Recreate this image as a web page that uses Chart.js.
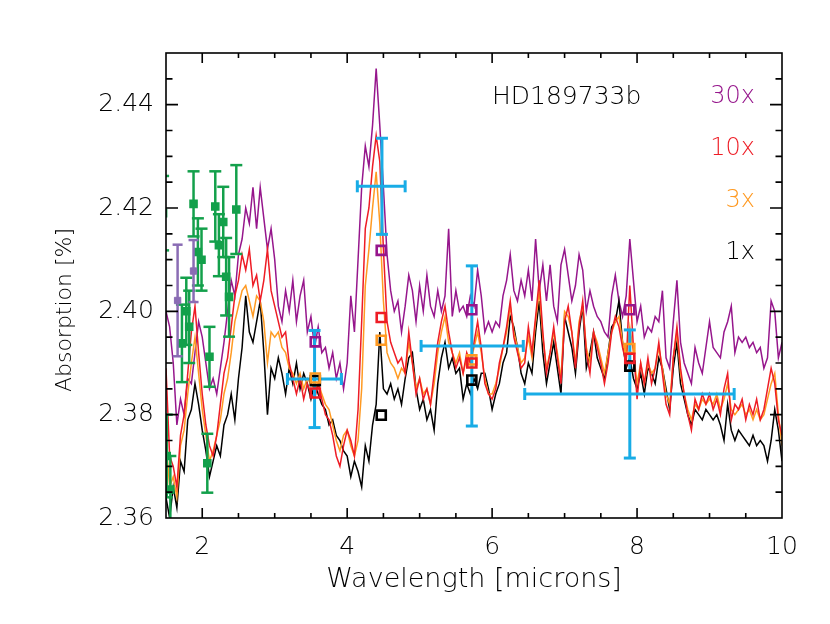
<!DOCTYPE html>
<html>
<head>
<meta charset="utf-8">
<script src="https://cdn.jsdelivr.net/npm/chart.js@4.4.0/dist/chart.umd.min.js"></script>
<style>
body { margin: 0; background: #fff; }
</style>
</head>
<body>
<canvas id="graphic" width="830" height="624"></canvas>
<script>
// model spectra, one value per wavelength
var wave = [
  1.50,1.55,1.60,1.65,1.70,1.75,1.80,1.85,1.90,1.95,
  2.00,2.05,2.10,2.15,2.20,2.25,2.30,2.35,2.40,2.45,
  2.50,2.55,2.60,2.65,2.70,2.75,2.80,2.85,2.90,2.95,
  3.00,3.05,3.10,3.15,3.20,3.25,3.30,3.35,3.40,3.45,
  3.50,3.55,3.60,3.65,3.70,3.75,3.80,3.85,3.90,3.95,
  4.00,4.05,4.10,4.15,4.20,4.25,4.30,4.35,4.40,4.45,
  4.50,4.55,4.60,4.65,4.70,4.75,4.80,4.85,4.90,4.95,
  5.00,5.05,5.10,5.15,5.20,5.25,5.30,5.35,5.40,5.45,
  5.50,5.55,5.60,5.65,5.70,5.75,5.80,5.85,5.90,5.95,
  6.00,6.05,6.10,6.15,6.20,6.25,6.30,6.35,6.40,6.45,
  6.50,6.55,6.60,6.65,6.70,6.75,6.80,6.85,6.90,6.95,
  7.00,7.05,7.10,7.15,7.20,7.25,7.30,7.35,7.40,7.45,
  7.50,7.55,7.60,7.65,7.70,7.75,7.80,7.85,7.90,7.95,
  8.00,8.05,8.10,8.15,8.20,8.25,8.30,8.35,8.40,8.45,
  8.50,8.55,8.60,8.65,8.70,8.75,8.80,8.85,8.90,8.95,
  9.00,9.05,9.10,9.15,9.20,9.25,9.30,9.35,9.40,9.45,
  9.50,9.55,9.60,9.65,9.70,9.75,9.80,9.85,9.90,9.95,
  10.00
];

var model1x = [
  2.364,2.360,2.366,2.362,2.371,2.369,2.379,2.381,2.386,2.382,
  2.377,2.373,2.368,2.371,2.374,2.372,2.378,2.380,2.384,2.379,
  2.387,2.393,2.403,2.396,2.394,2.398,2.402,2.392,2.380,2.389,
  2.387,2.391,2.388,2.384,2.389,2.386,2.390,2.385,2.388,2.386,
  2.383,2.386,2.384,2.382,2.381,2.378,2.379,2.376,2.375,2.373,
  2.372,2.368,2.371,2.369,2.366,2.374,2.371,2.378,2.382,2.396,
  2.385,2.384,2.386,2.383,2.385,2.382,2.387,2.391,2.392,2.385,
  2.381,2.383,2.379,2.381,2.377,2.386,2.391,2.394,2.389,2.391,
  2.388,2.389,2.383,2.386,2.384,2.387,2.385,2.388,2.388,2.385,
  2.381,2.384,2.386,2.390,2.392,2.399,2.397,2.393,2.388,2.386,
  2.390,2.388,2.396,2.402,2.392,2.386,2.390,2.394,2.389,2.384,
  2.399,2.396,2.393,2.388,2.396,2.401,2.389,2.392,2.396,2.391,
  2.389,2.387,2.392,2.397,2.398,2.402,2.394,2.389,2.391,2.387,
  2.385,2.388,2.384,2.389,2.388,2.386,2.391,2.389,2.385,2.381,
  2.389,2.394,2.386,2.383,2.380,2.378,2.381,2.380,2.379,2.381,
  2.380,2.379,2.380,2.378,2.375,2.382,2.377,2.375,2.377,2.376,
  2.375,2.374,2.376,2.374,2.375,2.374,2.371,2.375,2.381,2.377,
  2.371
];

var model3x = [
  2.375,2.366,2.368,2.364,2.374,2.377,2.384,2.390,2.395,2.388,
  2.381,2.376,2.371,2.373,2.376,2.379,2.384,2.387,2.392,2.398,
  2.401,2.404,2.405,2.402,2.399,2.403,2.402,2.398,2.390,2.396,
  2.395,2.396,2.393,2.392,2.389,2.388,2.386,2.388,2.385,2.387,
  2.386,2.385,2.386,2.384,2.382,2.381,2.378,2.375,2.373,2.376,
  2.377,2.374,2.372,2.375,2.385,2.405,2.412,2.420,2.427,2.417,
  2.402,2.392,2.390,2.389,2.387,2.389,2.388,2.394,2.390,2.385,
  2.387,2.384,2.385,2.382,2.386,2.392,2.396,2.399,2.394,2.392,
  2.390,2.392,2.388,2.391,2.390,2.393,2.396,2.392,2.387,2.384,
  2.384,2.386,2.389,2.393,2.396,2.401,2.396,2.393,2.390,2.391,
  2.395,2.391,2.398,2.404,2.395,2.389,2.392,2.396,2.392,2.387,
  2.400,2.399,2.396,2.390,2.398,2.401,2.393,2.390,2.396,2.394,
  2.391,2.388,2.392,2.396,2.398,2.399,2.394,2.391,2.397,2.392,
  2.386,2.390,2.386,2.390,2.388,2.389,2.393,2.389,2.384,2.382,
  2.391,2.396,2.388,2.384,2.381,2.379,2.382,2.381,2.383,2.382,
  2.383,2.382,2.384,2.381,2.383,2.386,2.381,2.380,2.381,2.382,
  2.380,2.381,2.379,2.381,2.379,2.380,2.383,2.386,2.388,2.380,
  2.374
];

var model10x = [
  2.389,2.372,2.370,2.366,2.376,2.380,2.388,2.396,2.401,2.392,
  2.384,2.378,2.374,2.372,2.376,2.382,2.388,2.391,2.397,2.403,
  2.406,2.411,2.408,2.412,2.405,2.407,2.402,2.406,2.412,2.404,
  2.401,2.398,2.395,2.396,2.390,2.387,2.384,2.387,2.383,2.386,
  2.384,2.383,2.386,2.383,2.380,2.379,2.376,2.372,2.370,2.374,
  2.377,2.375,2.372,2.381,2.398,2.416,2.420,2.428,2.434,2.429,
  2.412,2.398,2.394,2.392,2.390,2.391,2.388,2.396,2.390,2.384,
  2.387,2.383,2.385,2.382,2.388,2.394,2.398,2.401,2.396,2.392,
  2.389,2.391,2.388,2.392,2.390,2.394,2.398,2.393,2.386,2.384,
  2.383,2.385,2.390,2.393,2.397,2.402,2.395,2.392,2.389,2.390,
  2.397,2.392,2.399,2.406,2.396,2.388,2.392,2.397,2.391,2.386,
  2.398,2.401,2.396,2.389,2.397,2.402,2.392,2.388,2.396,2.393,
  2.390,2.386,2.390,2.396,2.399,2.397,2.393,2.390,2.405,2.393,
  2.383,2.390,2.386,2.391,2.386,2.389,2.394,2.388,2.382,2.380,
  2.391,2.397,2.389,2.384,2.380,2.377,2.383,2.381,2.384,2.382,
  2.384,2.381,2.383,2.380,2.385,2.388,2.379,2.382,2.381,2.383,
  2.379,2.382,2.380,2.383,2.379,2.381,2.385,2.389,2.386,2.379,
  2.376
];

var model30x = [
  2.400,2.397,2.390,2.378,2.383,2.380,2.387,2.386,2.392,2.398,
  2.395,2.390,2.385,2.387,2.384,2.389,2.394,2.400,2.406,2.403,
  2.411,2.414,2.420,2.417,2.424,2.416,2.424,2.418,2.412,2.416,
  2.410,2.401,2.398,2.404,2.400,2.406,2.398,2.403,2.406,2.396,
  2.399,2.393,2.397,2.392,2.393,2.389,2.392,2.387,2.390,2.385,
  2.390,2.403,2.396,2.410,2.424,2.432,2.428,2.436,2.447,2.436,
  2.424,2.411,2.404,2.400,2.402,2.396,2.401,2.407,2.404,2.398,
  2.405,2.400,2.407,2.401,2.399,2.404,2.400,2.403,2.416,2.399,
  2.404,2.400,2.401,2.399,2.403,2.401,2.408,2.403,2.396,2.398,
  2.396,2.398,2.397,2.403,2.406,2.411,2.404,2.402,2.406,2.403,
  2.408,2.402,2.414,2.404,2.409,2.402,2.409,2.401,2.398,2.409,
  2.412,2.407,2.402,2.405,2.411,2.408,2.400,2.404,2.401,2.399,
  2.398,2.396,2.395,2.403,2.407,2.402,2.399,2.403,2.414,2.406,
  2.398,2.401,2.395,2.397,2.396,2.399,2.398,2.404,2.391,2.389,
  2.398,2.406,2.394,2.390,2.388,2.386,2.393,2.390,2.388,2.393,
  2.398,2.393,2.392,2.391,2.396,2.398,2.401,2.392,2.395,2.394,
  2.395,2.393,2.394,2.392,2.393,2.389,2.391,2.402,2.400,2.391,
  2.394
];

// HST NICMOS points (green)
var hstWave = [1.46, 1.51, 1.56, 1.72, 1.78, 1.82, 1.88, 1.94, 1.99, 2.07, 2.10, 2.18, 2.23, 2.29, 2.33, 2.37, 2.47];
var hstAbs  = [2.4190, 2.3720, 2.3655, 2.3938, 2.4000, 2.3970, 2.4208, 2.4115, 2.4100, 2.3706, 2.3912, 2.4203, 2.4128, 2.4173, 2.4067, 2.4028, 2.4197];
var hstErr  = [0.0072, 0.0080, 0.0065, 0.0075, 0.0065, 0.0070, 0.0063, 0.0065, 0.0060, 0.0057, 0.0058, 0.0068, 0.0060, 0.0068, 0.0075, 0.0077, 0.0086];

// second HST set (lavender)
var nicWave = [1.66, 1.88];
var nicAbs  = [2.4021, 2.4078];
var nicErr  = [0.0108, 0.0060];

// Spitzer bands (cyan)
var spitzerWave = [3.55, 4.48, 5.72, 7.90];
var spitzerLo   = [3.175, 4.14, 5.02, 6.45];
var spitzerHi   = [3.92, 4.80, 6.43, 9.34];
var spitzerAbs  = [2.3869, 2.4242, 2.3933, 2.3840];
var spitzerErr  = [0.0094, 0.0093, 0.0155, 0.0124];

// band-averaged models (open squares)
var bandWave = [3.56, 4.47, 5.72, 7.90];
var band1x  = [2.3866, 2.3799, 2.3867, 2.3894];
var band3x  = [2.3871, 2.3944, 2.3906, 2.3928];
var band10x = [2.3842, 2.3988, 2.3900, 2.3909];
var band30x = [2.3941, 2.4118, 2.4003, 2.4003];

var xTicks = [2, 4, 6, 8, 10];
var yTicks = [2.36, 2.38, 2.40, 2.42, 2.44];

var cBlack = '#000000';
var cOrange = '#FF9A22';
var cRed = '#EE1C25';
var cPurple = '#96168C';
var cGreen = '#13A04B';
var cCyan = '#18ACE6';
var cLav = '#8A6CB4';
var fam = '"DejaVu Sans", sans-serif';
var wt = '300';

function spectrum(vals, color, ord) {
  return {
    data: wave.map(function (w, i) { return { x: w, y: vals[i] }; }),
    showLine: true, borderColor: color, borderWidth: 1.5,
    pointRadius: 0, order: ord
  };
}

function vbar(x, y, err, color, lw, cap, ord) {
  return {
    data: [{ x: x, y: y - err }, { x: x, y: y + err }],
    showLine: true, borderColor: color, borderWidth: lw,
    pointStyle: 'line', pointRadius: cap, pointBorderColor: color,
    pointBorderWidth: lw, pointRotation: 0, order: ord
  };
}

function hbar(lo, hi, y, color, lw, cap, ord) {
  return {
    data: [{ x: lo, y: y }, { x: hi, y: y }],
    showLine: true, borderColor: color, borderWidth: lw,
    pointStyle: 'line', pointRadius: cap, pointBorderColor: color,
    pointBorderWidth: lw, pointRotation: 90, order: ord
  };
}

function boxes(vals, color, ord) {
  return {
    data: bandWave.map(function (w, i) { return { x: w, y: vals[i] }; }),
    pointStyle: 'rect', pointRadius: 6.4, pointBorderWidth: 2.6,
    pointBorderColor: color, pointBackgroundColor: 'rgba(0,0,0,0)', order: ord
  };
}

var datasets = [
  spectrum(model30x, cPurple, 20),
  spectrum(model1x, cBlack, 19),
  spectrum(model3x, cOrange, 18),
  spectrum(model10x, cRed, 17)
];

hstWave.forEach(function (w, i) {
  datasets.push(vbar(w, hstAbs[i], hstErr[i], cGreen, 2.5, 6, 10));
});
datasets.push({
  data: hstWave.map(function (w, i) { return { x: w, y: hstAbs[i] }; }),
  pointStyle: 'rect', pointRadius: 5, pointBackgroundColor: cGreen,
  pointBorderColor: cGreen, pointBorderWidth: 1.5, order: 9
});
nicWave.forEach(function (w, i) {
  datasets.push(vbar(w, nicAbs[i], nicErr[i], cLav, 2.5, 5, 8));
});
datasets.push({
  data: nicWave.map(function (w, i) { return { x: w, y: nicAbs[i] }; }),
  pointStyle: 'rect', pointRadius: 4.5, pointBackgroundColor: cLav,
  pointBorderColor: cLav, pointBorderWidth: 1, order: 8
});
spitzerWave.forEach(function (w, i) {
  datasets.push(vbar(w, spitzerAbs[i], spitzerErr[i], cCyan, 3, 6, 5));
  datasets.push(hbar(spitzerLo[i], spitzerHi[i], spitzerAbs[i], cCyan, 3, 6, 5));
});
datasets.push(boxes(band1x, cBlack, 4));
datasets.push(boxes(band3x, cOrange, 3));
datasets.push(boxes(band10x, cRed, 2));
datasets.push(boxes(band30x, cPurple, 1));

// IDL style box with inward ticks and the labels inside the plot
var frame = {
  id: 'frame',
  afterDraw: function (chart) {
    var c = chart.ctx, a = chart.chartArea;
    var xs = chart.scales.x, ys = chart.scales.y;
    c.save();
    c.strokeStyle = '#000';
    c.lineWidth = 1.6;
    c.strokeRect(a.left, a.top, a.right - a.left, a.bottom - a.top);
    c.beginPath();
    for (var k = 1; k < 17; k++) {
      var v = 1.5 + k * 0.5;
      var px = xs.getPixelForValue(v);
      var len = (k % 4 === 1) ? 10 : 5;
      c.moveTo(px, a.bottom); c.lineTo(px, a.bottom - len);
      c.moveTo(px, a.top); c.lineTo(px, a.top + len);
    }
    for (var j = 1; j < 18; j++) {
      var py = ys.getPixelForValue(2.36 + j * 0.005);
      var l2 = (j % 4 === 0) ? 12 : 6.5;
      c.moveTo(a.left, py); c.lineTo(a.left + l2, py);
      c.moveTo(a.right, py); c.lineTo(a.right - l2, py);
    }
    c.stroke();

    // y title, sitting a little below the middle as in the original
    c.save();
    c.translate(65, 310);
    c.rotate(-Math.PI / 2);
    c.font = wt + ' 22px ' + fam;
    c.fillStyle = '#000';
    c.textAlign = 'center';
    c.textBaseline = 'middle';
    c.fillText('Absorption [%]', 0, 0);
    c.restore();

    c.font = wt + ' 25px ' + fam;
    c.textBaseline = 'middle';
    c.fillStyle = '#000';
    c.textAlign = 'left';
    c.fillText('HD189733b', a.left + 326, a.top + 44);
    c.font = wt + ' 24px ' + fam;
    c.textAlign = 'right';
    c.fillStyle = cPurple; c.fillText('30x', a.right - 27, a.top + 44);
    c.fillStyle = cRed;    c.fillText('10x', a.right - 27, a.top + 96);
    c.fillStyle = cOrange; c.fillText('3x',  a.right - 27, a.top + 148);
    c.fillStyle = '#000';  c.fillText('1x',  a.right - 27, a.top + 200);
    c.restore();
  }
};

new Chart(document.getElementById('graphic'), {
  type: 'scatter',
  data: { datasets: datasets },
  options: {
    responsive: false,
    animation: false,
    events: [],
    layout: { padding: { left: 0, right: 48, top: 53, bottom: 0 } },
    plugins: { legend: { display: false }, tooltip: { enabled: false } },
    scales: {
      x: {
        type: 'linear', min: 1.5, max: 10,
        grid: { display: false, drawTicks: false },
        border: { display: false },
        afterBuildTicks: function (s) { s.ticks = xTicks.map(function (v) { return { value: v }; }); },
        afterFit: function (s) { s.height = 106; },
        ticks: {
          padding: 14, color: '#000', maxRotation: 0, autoSkip: false,
          font: { family: fam, size: 25, weight: wt },
          callback: function (v) { return String(v); }
        },
        title: {
          display: true, text: 'Wavelength [microns]', color: '#000',
          font: { family: fam, size: 27, weight: wt }, padding: { top: 0, bottom: 28 }
        }
      },
      y: {
        type: 'linear', min: 2.36, max: 2.45,
        grid: { display: false, drawTicks: false },
        border: { display: false },
        afterBuildTicks: function (s) { s.ticks = yTicks.map(function (v) { return { value: v }; }); },
        afterFit: function (s) { s.width = 166; },
        ticks: {
          padding: 12, color: '#000', autoSkip: false,
          font: { family: fam, size: 25, weight: wt },
          callback: function (v) { return v.toFixed(2); }
        },
        title: { display: false }
      }
    }
  },
  plugins: [frame]
});
</script>
</body>
</html>
